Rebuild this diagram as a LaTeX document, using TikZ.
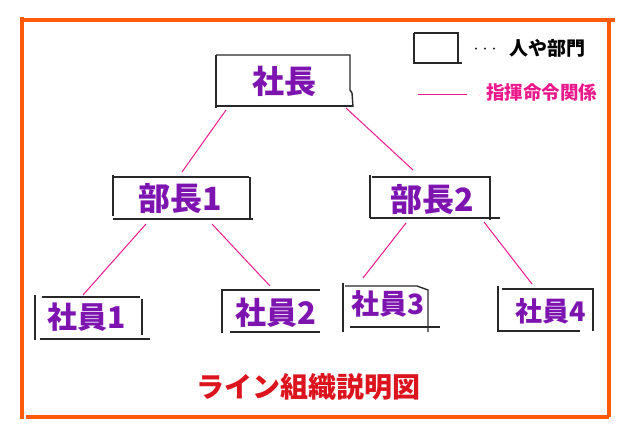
\documentclass[tikz,border=0pt]{standalone}
\usepackage{fontspec}
\newfontfamily\cjk{Noto Sans CJK JP}
\definecolor{frameorange}{RGB}{255,90,10}
\definecolor{boxgray}{RGB}{40,40,40}
\definecolor{txtpurple}{RGB}{125,20,175}
\definecolor{linkpink}{RGB}{235,25,140}
\definecolor{titlered}{RGB}{220,20,30}
\tikzset{
  frameline/.style={draw=frameorange,line width=3.2pt},
  boxline/.style={draw=boxgray,line width=1.4pt},
  link/.style={draw=linkpink,line width=1pt},
  lbl/.style={inner sep=0pt,text=txtpurple,font=\cjk\bfseries},
}
\begin{document}
\begin{tikzpicture}[x=1pt,y=-1pt]
\useasboundingbox (0,0) rectangle (620,431);
% frame
\draw[frameline] (22,17) -- (22,419);
\draw[frameline] (22,20) -- (615,20);
\draw[frameline] (609,20) -- (609,417);
\draw[frameline] (26,417) -- (609,417);

% legend
\draw[boxline,line width=1.2pt] (414,33) -- (458,33) -- (458,63);
\draw[boxline,line width=1.2pt] (414,33) -- (414,63) -- (462,63);
\node[inner sep=0pt,font=\cjk\fontsize{9}{9}\selectfont] (ldots) at (485,50) {・・・};
\node[inner sep=0pt,anchor=west,font=\cjk\bfseries\fontsize{19}{19}\selectfont] (lperson) at (509,48) {人や部門};
\coordinate (lpa) at (418,94);
\coordinate (lpb) at (467,94);
\draw[link] (lpa) -- (lpb);
\node[inner sep=0pt,text=linkpink,font=\fontsize{6}{6}\selectfont] (ldot) at (480,96) {.};
\node[inner sep=0pt,anchor=west,text=linkpink,font=\cjk\bfseries\fontsize{18.5}{18.5}\selectfont] (lcmd) at (486,93) {指揮命令関係};

% boxes
\draw[boxline] (216,55) -- (350,55) -- (350,90) -- (352,93) -- (353,107);
\draw[boxline] (216,55) -- (216,108);
\draw[boxline] (216,106) -- (353,106);
\node[lbl,font=\cjk\bfseries\fontsize{32}{32}\selectfont] (ceo) at (284,81) {社長};

\draw[boxline] (113,175) -- (113,216);
\draw[boxline] (113,177) -- (249,177);
\draw[boxline] (250,177) -- (250,220);
\draw[boxline] (113,219) -- (253,219);
\node[lbl,font=\cjk\bfseries\fontsize{32}{32}\selectfont] (mgr1) at (180,198) {部長1};

\draw[boxline] (370,175) -- (370,218);
\draw[boxline] (372,177) -- (490,177) -- (490,220);
\draw[boxline] (370,218) -- (500,218);
\node[lbl,font=\cjk\bfseries\fontsize{32}{32}\selectfont] (mgr2) at (432,199) {部長2};

\draw[boxline] (35,295) -- (35,340);
\draw[boxline] (42,297) -- (140,297);
\draw[boxline] (142,299) -- (142,335);
\draw[boxline] (40,339) -- (150,339);
\node[lbl,font=\cjk\bfseries\fontsize{30}{30}\selectfont] (emp1) at (87,317) {社員1};

\draw[boxline] (222,289) -- (222,333);
\draw[boxline] (222,290) -- (320,290);
\draw[boxline] (230,332) -- (320,332);
\node[lbl,font=\cjk\bfseries\fontsize{31}{31}\selectfont] (emp2) at (276,313) {社員2};

\draw[boxline] (343,283) -- (343,332);
\draw[boxline] (345,286) -- (417,286) -- (428,290) -- (428,332);
\draw[boxline] (350,327) -- (440,327);
\node[lbl,font=\cjk\bfseries\fontsize{28}{28}\selectfont] (emp3) at (388,304) {社員3};

\draw[boxline] (498,286) -- (498,331) -- (580,331);
\draw[boxline] (502,289) -- (593,289) -- (593,331);
\node[lbl,font=\cjk\bfseries\fontsize{27}{27}\selectfont] (emp4) at (551,311) {社員4};

% link end points
\coordinate (c1a) at (226,110);
\coordinate (c1b) at (182,172);
\coordinate (c2a) at (346,108);
\coordinate (c2b) at (413,170);
\coordinate (m1a) at (146,224);
\coordinate (m1b) at (83,295);
\coordinate (m2a) at (212,224);
\coordinate (m2b) at (270,286);
\coordinate (m3a) at (406,223);
\coordinate (m3b) at (363,278);
\coordinate (m4a) at (484,222);
\coordinate (m4b) at (532,284);
\draw[link] (c1a) -- (c1b);
\draw[link] (c2a) -- (c2b);
\draw[link] (m1a) -- (m1b);
\draw[link] (m2a) -- (m2b);
\draw[link] (m3a) -- (m3b);
\draw[link] (m4a) -- (m4b);

% title
\node[inner sep=0pt,text=titlered,font=\cjk\bfseries\fontsize{28}{28}\selectfont] (title) at (308,387) {ライン組織説明図};
\end{tikzpicture}
\end{document}
